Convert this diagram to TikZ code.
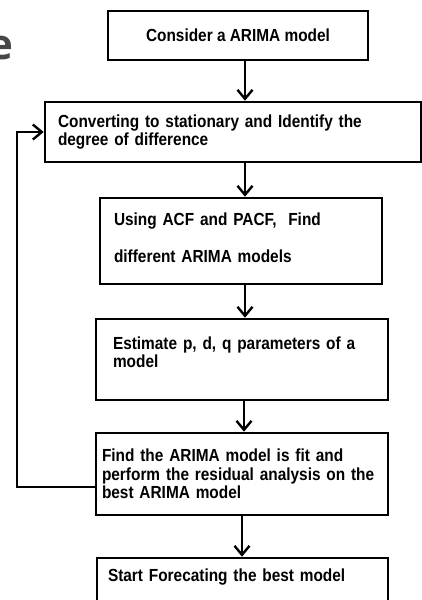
\documentclass[tikz,border=0pt]{standalone}
\usepackage{fontspec}
\setmainfont{Liberation Sans}[FakeStretch=0.88]
\newfontfamily\cutfont{Open Sans}
\usetikzlibrary{arrows.meta}
\tikzset{arimabox/.style={draw,line width=2.6pt,inner sep=0pt,align=left,
           font=\bfseries\fontsize{17.5}{18.5}\selectfont},
         arimaarr/.style={line width=2.4pt,-{Straight Barb[length=9pt,width=15pt]}}}

\begin{document}
\begin{tikzpicture}[x=1pt,y=-1pt]
    \useasboundingbox (0,0) rectangle (422,600);
    \node[text=black!72,font=\cutfont\bfseries\fontsize{42}{42}\selectfont] (cut) at (1,48) {e};
    \node[arimabox,align=center,minimum width=260pt,minimum height=49pt] (b1) at (238,35.5) {Consider a ARIMA model};
    \node[arimabox,text width=350pt,minimum width=376pt,minimum height=60pt] (b2) at (233,132)
      {Converting to stationary and Identify the\\degree of difference};
    \node[arimabox,text width=254pt,minimum width=282pt,minimum height=86pt] (b3) at (241,241)
      {Using ACF and PACF,~ Find\\[18.5pt]different ARIMA models\\[-12pt]\mbox{}};
    \node[arimabox,text width=258pt,minimum width=292pt,minimum height=81pt] (b4) at (242,359.5)
      {Estimate p, d, q parameters of a\\model\\[-4pt]\mbox{}};
    \node[arimabox,text width=280pt,minimum width=292pt,minimum height=82pt] (b5) at (242,474)
      {Find the ARIMA model is fit and\\perform the residual analysis on the\\best ARIMA model};
    \node[arimabox,text width=269pt,minimum width=291pt,minimum height=57pt] (b6) at (242.5,586.5)
      {Start Forecating the best model\\[4pt]\mbox{}};
    % main flow
    \draw[arimaarr] ([xshift=7pt]b1.south) -- ([xshift=7pt]b1.south |- b2.north);
    \draw[arimaarr] ([xshift=12pt]b2.south) -- ([xshift=12pt]b2.south |- b3.north);
    \draw[arimaarr] ([xshift=4pt]b3.south) -- ([xshift=4pt]b3.south |- b4.north);
    \draw[arimaarr] ([xshift=2pt]b4.south) -- ([xshift=2pt]b4.south |- b5.north);
    \draw[arimaarr] (b5.south) -- (b5.south |- b6.north);
    % back to differencing
    \draw[arimaarr] ([yshift=-13pt]b5.west) -- ++(-78pt,0) |- (b2.west);
\end{tikzpicture}
\end{document}
